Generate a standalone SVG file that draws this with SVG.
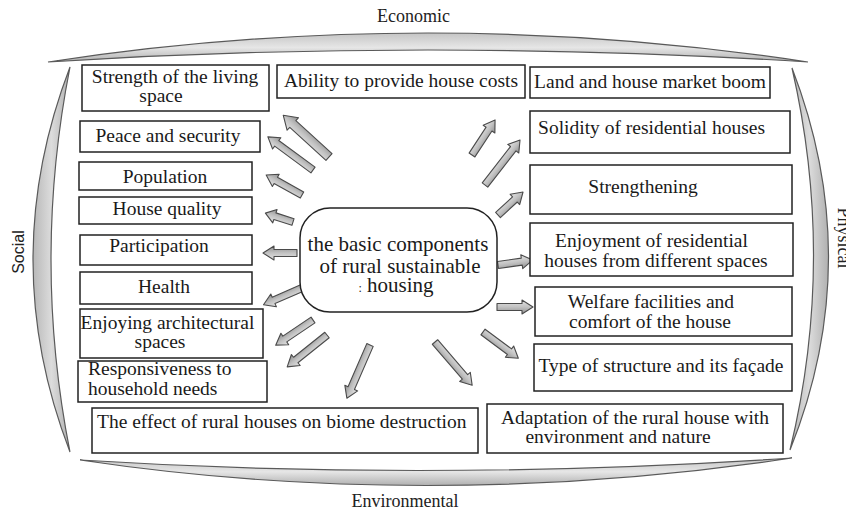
<svg xmlns="http://www.w3.org/2000/svg" width="846" height="511" viewBox="0 0 846 511">
<defs>
<linearGradient id="ag" x1="0" y1="0" x2="0" y2="1">
<stop offset="0" stop-color="#e4e4e4"/>
<stop offset="0.5" stop-color="#c2c2c2"/>
<stop offset="1" stop-color="#8e8e8e"/>
</linearGradient>
<linearGradient id="bgH" x1="0" y1="0" x2="0" y2="1">
<stop offset="0" stop-color="#c4c4c4"/>
<stop offset="0.5" stop-color="#e6e6e6"/>
<stop offset="1" stop-color="#b0b0b0"/>
</linearGradient>
<linearGradient id="bgV" x1="0" y1="0" x2="1" y2="0">
<stop offset="0" stop-color="#b8b8b8"/>
<stop offset="0.5" stop-color="#dcdcdc"/>
<stop offset="1" stop-color="#b0b0b0"/>
</linearGradient>
<style>
.box{fill:#fff;stroke:#222;stroke-width:1.5}
.t{font-family:"Liberation Serif",serif;font-size:19.5px;fill:#1a1a1a}
.m{text-anchor:middle}
.c{font-family:"Liberation Serif",serif;font-size:21px;fill:#1a1a1a;text-anchor:middle}
.lab{font-family:"Liberation Serif",serif;font-size:18px;fill:#222;text-anchor:middle}
.arr{fill:url(#ag);stroke:#4a4a4a;stroke-width:1.1;stroke-linejoin:round}
.br{stroke:#5a5a5a;stroke-width:1.2}
</style>
</defs>
<rect width="846" height="511" fill="#fff"/>

<g id="brackets">
<path class="br" fill="url(#bgH)" d="M48,62 Q428,4 808,62 Q428,38 48,62 Z"/>
<path class="br" fill="url(#bgV)" d="M70,67 Q-4,260 70,452 Q32,260 70,67 Z"/>
<path class="br" fill="url(#bgV)" d="M792,68 Q866,260 790,450 Q836,260 792,68 Z"/>
<path class="br" fill="url(#bgH)" d="M80,460 Q430,512 792,458 Q430,482 80,460 Z"/>
</g>

<g id="labels">
<text class="lab" x="413.5" y="22">Economic</text>
<text class="lab" x="405" y="507">Environmental</text>
<text x="24" y="252" transform="rotate(-90 24 252)" font-family="Liberation Sans, sans-serif" font-size="16" fill="#222" text-anchor="middle">Social</text>
<text class="lab" x="838" y="238" transform="rotate(90 838 238)">Physical</text>
</g>

<g id="connectors">
<path class="arr" transform="translate(329,157) rotate(-137.6)" d="M0,-4.5 H49 V-8.5 L62,0 L49,8.5 V4.5 H0 Z"/>
<path class="arr" transform="translate(313,170) rotate(-143.7)" d="M0,-3.5 H45 V-7 L56,0 L45,7 V3.5 H0 Z"/>
<path class="arr" transform="translate(302,195) rotate(-150.9)" d="M0,-3.5 H30 V-7 L41,0 L30,7 V3.5 H0 Z"/>
<path class="arr" transform="translate(293,222) rotate(-162.2)" d="M0,-3.5 H19 V-7 L29,0 L19,7 V3.5 H0 Z"/>
<path class="arr" transform="translate(297,253) rotate(180)" d="M0,-3.5 H23 V-7 L34,0 L23,7 V3.5 H0 Z"/>
<path class="arr" transform="translate(302,288) rotate(156.4)" d="M0,-3.5 H31 V-7 L42,0 L31,7 V3.5 H0 Z"/>
<path class="arr" transform="translate(313,320) rotate(146)" d="M0,-3.5 H34 V-7 L45,0 L34,7 V3.5 H0 Z"/>
<path class="arr" transform="translate(327,335) rotate(141.3)" d="M0,-3.5 H40 V-7 L51,0 L40,7 V3.5 H0 Z"/>
<path class="arr" transform="translate(370,345) rotate(113.5)" d="M0,-3.5 H47 V-7 L58,0 L47,7 V3.5 H0 Z"/>
<path class="arr" transform="translate(435,342) rotate(49.3)" d="M0,-3.5 H46 V-7 L57,0 L46,7 V3.5 H0 Z"/>
<path class="arr" transform="translate(483,332) rotate(36.6)" d="M0,-3.5 H33 V-7 L44,0 L33,7 V3.5 H0 Z"/>
<path class="arr" transform="translate(497,307)" d="M0,-3.5 H25 V-7 L36,0 L25,7 V3.5 H0 Z"/>
<path class="arr" transform="translate(498,265) rotate(-8.1)" d="M0,-3.5 H24 V-7 L35,0 L24,7 V3.5 H0 Z"/>
<path class="arr" transform="translate(498,215) rotate(-42.6)" d="M0,-3.5 H23 V-7 L34,0 L23,7 V3.5 H0 Z"/>
<path class="arr" transform="translate(485,185) rotate(-52.1)" d="M0,-3.5 H46 V-7 L57,0 L46,7 V3.5 H0 Z"/>
<path class="arr" transform="translate(472,155) rotate(-56.7)" d="M0,-3.5 H31 V-7 L42,0 L31,7 V3.5 H0 Z"/>
</g>

<g id="center">
<rect class="box" x="300" y="208" width="197" height="104" rx="30" ry="30"/>
<text class="c" x="398" y="251">the basic components</text>
<text class="c" x="400" y="273">of rural sustainable</text>
<text class="c" x="396" y="292"><tspan font-size="12">:</tspan> housing</text>
</g>

<g id="n-strength">
<rect class="box" x="82" y="65" width="187" height="46"/>
<text class="t m" x="175" y="83">Strength of the living</text>
<text class="t m" x="161" y="102">space</text>
</g>
<g id="n-peace">
<rect class="box" x="80" y="121" width="180" height="31"/>
<text class="t m" x="168" y="142">Peace and security</text>
</g>
<g id="n-population">
<rect class="box" x="79" y="162" width="173" height="28"/>
<text class="t m" x="165" y="183">Population</text>
</g>
<g id="n-quality">
<rect class="box" x="79" y="197" width="173" height="27"/>
<text class="t m" x="167" y="215">House quality</text>
</g>
<g id="n-participation">
<rect class="box" x="80" y="235" width="172" height="30"/>
<text class="t m" x="159" y="252">Participation</text>
</g>
<g id="n-health">
<rect class="box" x="80" y="272" width="172" height="32"/>
<text class="t m" x="164" y="293">Health</text>
</g>
<g id="n-enjoying">
<rect class="box" x="80" y="309" width="183" height="49"/>
<text class="t m" x="167.5" y="329">Enjoying architectural</text>
<text class="t m" x="160" y="348">spaces</text>
</g>
<g id="n-responsiveness">
<rect class="box" x="78" y="361" width="189" height="41"/>
<text class="t" x="88" y="375">Responsiveness to</text>
<text class="t" x="88" y="395">household needs</text>
</g>
<g id="n-effect">
<rect class="box" x="92" y="408" width="386" height="45"/>
<text class="t" x="97" y="428">The effect of rural houses on biome destruction</text>
</g>
<g id="n-adaptation">
<rect class="box" x="487" y="404" width="296" height="49"/>
<text class="t m" x="635" y="424">Adaptation of the rural house with</text>
<text class="t m" x="618" y="443">environment and nature</text>
</g>
<g id="n-ability">
<rect class="box" x="277" y="65" width="248" height="33"/>
<text class="t m" x="401" y="87">Ability to provide house costs</text>
</g>
<g id="n-land">
<rect class="box" x="530" y="67" width="240" height="31"/>
<text class="t m" x="650" y="88">Land and house market boom</text>
</g>
<g id="n-solidity">
<rect class="box" x="530" y="111" width="260" height="42"/>
<text class="t m" x="651.5" y="134">Solidity of residential houses</text>
</g>
<g id="n-strengthening">
<rect class="box" x="530" y="165" width="262" height="49"/>
<text class="t m" x="643" y="193">Strengthening</text>
</g>
<g id="n-enjoyment">
<rect class="box" x="530" y="223" width="263" height="53"/>
<text class="t m" x="651.5" y="247">Enjoyment of residential</text>
<text class="t m" x="656" y="267">houses from different spaces</text>
</g>
<g id="n-welfare">
<rect class="box" x="535" y="287" width="257" height="49"/>
<text class="t m" x="651" y="308">Welfare facilities and</text>
<text class="t m" x="650" y="328">comfort of the house</text>
</g>
<g id="n-type">
<rect class="box" x="534" y="344" width="258" height="47"/>
<text class="t m" x="661" y="372">Type of structure and its façade</text>
</g>
</svg>
